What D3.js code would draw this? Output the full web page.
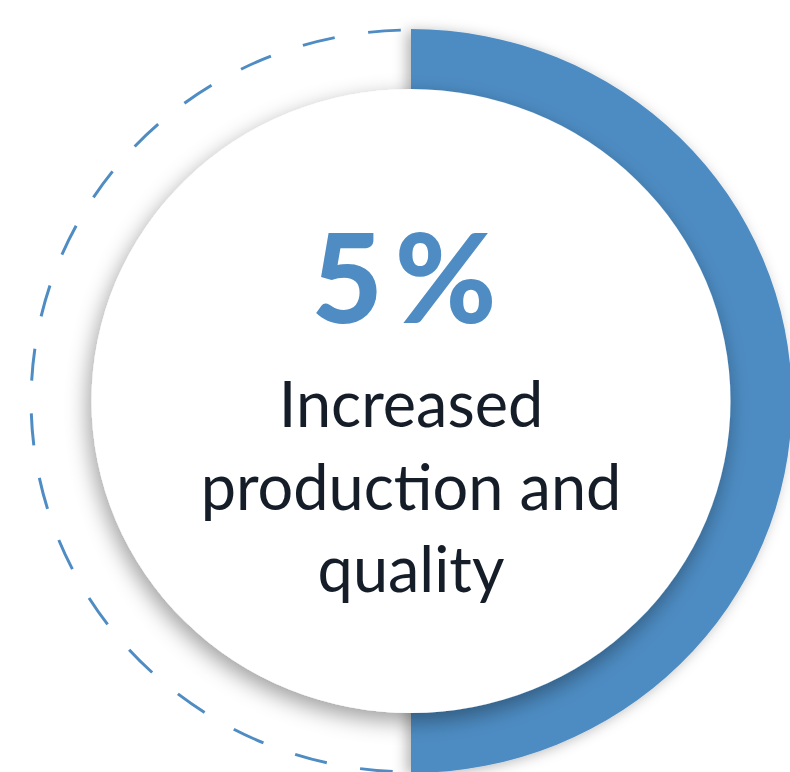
<!DOCTYPE html>
<html>
<head>
<meta charset="utf-8">
<script src="https://cdn.jsdelivr.net/npm/d3@7"></script>
<style>
  html, body { margin: 0; padding: 0; background: #fff; }
  svg { display: block; }
</style>
</head>
<body>
<svg class="ring-chart"></svg>
<script>
// chart values
const percentValue = [5];
const percentLabel = ['5%'];
const captionLines = ['Increased', 'production and', 'quality'];
// filled half of the ring vs the dashed (remaining) half, in degrees
const ringSegments = [
  { name: 'filled', start: 0, end: 180 },
  { name: 'remaining', start: 180, end: 360 },
];

const width = 790;
const height = 772;
const blue = '#4e8cc3';
const ink = '#151d29';

const cx = 411;
const cy = 401;
const stretchX = 1.024;
const outerR = 372;
const innerR = 290;
const discR = 312;
const dashR = 371;

const svg = d3.select('.ring-chart')
  .attr('width', width)
  .attr('height', height);

const defs = svg.append('defs');

const discShadow = defs.append('filter')
  .attr('id', 'disc-shadow')
  .attr('x', '-30%').attr('y', '-30%')
  .attr('width', '160%').attr('height', '160%');
discShadow.append('feDropShadow')
  .attr('dx', -3).attr('dy', 8)
  .attr('stdDeviation', 11)
  .attr('flood-color', '#000')
  .attr('flood-opacity', 0.38);

const arcShadow = defs.append('filter')
  .attr('id', 'arc-shadow')
  .attr('x', '-30%').attr('y', '-30%')
  .attr('width', '160%').attr('height', '160%');
arcShadow.append('feDropShadow')
  .attr('dx', -4).attr('dy', 2)
  .attr('stdDeviation', 7)
  .attr('flood-color', '#000')
  .attr('flood-opacity', 0.3);

const deg = d3.scaleLinear().domain([0, 360]).range([0, 2 * Math.PI]);

const ring = svg.append('g')
  .attr('transform', `translate(${cx},${cy}) scale(${stretchX},1)`);

// dashed remaining half (drawn from the bottom up to the top)
const rem = ringSegments.find((d) => d.name === 'remaining');
const dashPath = d3.path();
dashPath.arc(0, 0, dashR, deg(rem.start) - Math.PI / 2, deg(rem.end) - Math.PI / 2, false);
ring.append('path')
  .attr('d', dashPath.toString())
  .attr('fill', 'none')
  .attr('stroke', blue)
  .attr('stroke-width', 2.9)
  .attr('stroke-dasharray', '32 33')
  .attr('stroke-dashoffset', -18);

// filled half
const arc = d3.arc()
  .innerRadius(innerR)
  .outerRadius(outerR);

ring.selectAll('path.filled')
  .data(ringSegments.filter((d) => d.name === 'filled'))
  .join('path')
  .attr('class', 'filled')
  .attr('d', (d) => arc({ startAngle: deg(d.start), endAngle: deg(d.end) }))
  .attr('fill', blue)
  .attr('filter', 'url(#arc-shadow)');

// white disc on top
ring.append('circle')
  .attr('r', discR)
  .attr('fill', '#fff')
  .attr('filter', 'url(#disc-shadow)');

// labels
svg.append('text')
  .attr('x', 410)
  .attr('y', 323)
  .attr('text-anchor', 'middle')
  .attr('font-family', 'Lato, sans-serif')
  .attr('font-weight', 900)
  .attr('font-size', 123)
  .attr('letter-spacing', 12)
  .attr('fill', blue)
  .text(percentLabel[0]);

svg.append('g')
  .selectAll('text')
  .data(captionLines)
  .join('text')
  .attr('x', 411)
  .attr('y', (d, i) => 427 + i * 82.5)
  .attr('text-anchor', 'middle')
  .attr('font-family', 'Lato, sans-serif')
  .attr('font-weight', 400)
  .attr('font-size', 63)
  .attr('fill', ink)
  .text((d) => d);
</script>
</body>
</html>
